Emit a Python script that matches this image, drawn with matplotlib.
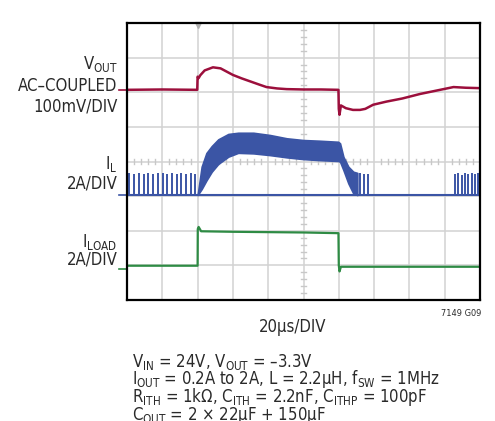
import matplotlib
matplotlib.use("Agg")
import matplotlib.pyplot as plt
from matplotlib import font_manager as fm
import numpy as np

# ---------------- data ----------------
# time in microseconds, 20 us/div, 10 divisions
time_span = [0, 200]

# V_OUT, AC-coupled, mV
vout_t = [0, 20, 39.8, 40.0, 40.6, 41.5, 44, 48.7, 53, 60, 65, 70, 75, 79, 85, 90.5,
          100, 110, 119.8, 120.0, 120.4, 121.2, 124, 128, 132, 135, 139.5, 147, 156,
          166, 175.5, 185, 192, 199, 200]
vout_mv = [0, 1, 0, 38, 34, 42, 56, 65, 62, 43, 33, 24, 15, 8, 4, 2,
           1, 1, 0, -55, -72, -45, -53, -58, -58, -55, -43, -34, -25,
           -12, -2, 8, 6, 5, 5]

# Inductor current band (switching envelope), A
il_env_t = [40, 42.3, 45, 48, 51.7, 57.4, 63, 71.6, 81, 90.5, 99.8, 109, 119.6,
            120.7, 122.6, 125.4, 128.2, 130.5]
il_env_hi = [0.0, 1.64, 2.43, 2.83, 3.22, 3.53, 3.60, 3.60, 3.47, 3.28, 3.18, 3.14, 3.08,
             2.99, 2.21, 1.64, 1.35, 1.28]
il_env_lo = [0.0, 0.35, 0.85, 1.35, 1.80, 2.22, 2.44, 2.41, 2.31, 2.18, 2.08, 2.02, 1.97,
             1.93, 1.45, 0.68, 0.10, 0.0]
# Burst-mode pulses (time, peak A)
il_pulse_t = [1.3, 4.0, 6.8, 9.5, 12.1, 14.7, 17.4, 20.2, 22.8, 25.5, 28.2, 30.8, 33.6,
              36.3, 38.7, 132.0, 134.2, 136.5,
              185.8, 187.7, 189.6, 191.5, 193.4, 195.3, 197.2, 199.1]
il_pulse_pk = [1.25, 1.22, 1.27, 1.24, 1.26, 1.22, 1.27, 1.25, 1.23, 1.27, 1.24, 1.26, 1.22,
               1.27, 1.24, 1.25, 1.22, 1.20,
               1.22, 1.27, 1.18, 1.26, 1.24, 1.27, 1.20, 1.25]

# Load current, A
iload_t = [0, 40, 40.1, 40.6, 42, 60, 100, 119.8, 120.0, 120.4, 121.2, 200]
iload_a = [0.18, 0.18, 2.30, 2.42, 2.17, 2.14, 2.10, 2.06, 0.20, -0.15, 0.12, 0.12]

# channel scales / ground positions (divisions from bottom)
vout_scale, vout_off = 100.0, 6.07
il_scale, il_off = 2.0, 3.03
iload_scale, iload_off = 2.0, 0.90

# condition lines under the plot
cond_lines = [
    r"V$_{\mathrm{IN}}$ = 24V, V$_{\mathrm{OUT}}$ = –3.3V",
    r"I$_{\mathrm{OUT}}$ = 0.2A to 2A, L = 2.2µH, f$_{\mathrm{SW}}$ = 1MHz",
    r"R$_{\mathrm{ITH}}$ = 1kΩ, C$_{\mathrm{ITH}}$ = 2.2nF, C$_{\mathrm{ITHP}}$ = 100pF",
    r"C$_{\mathrm{OUT}}$ = 2 × 22µF + 150µF",
]

RED, BLUE, GREEN = "#9c0f3c", "#3b55a5", "#2e8b44"
GRID = "#d2d2d2"
TXT = "#2a2a2a"

# pick a condensed sans if one is installed
avail = {f.name for f in fm.fontManager.ttflist}
if "Liberation Sans Narrow" in avail:
    main, stretch = "Liberation Sans Narrow", "normal"
else:
    main, stretch = "DejaVu Sans", "condensed"
plt.rcParams["font.family"] = [main, "DejaVu Sans"]
plt.rcParams["font.stretch"] = stretch
plt.rcParams["mathtext.fontset"] = "custom"
spec = main if stretch == "normal" else main + ":stretch=condensed"
plt.rcParams["mathtext.rm"] = spec
plt.rcParams["mathtext.it"] = spec
plt.rcParams["mathtext.bf"] = spec

W, H = 495, 421
fig = plt.figure(figsize=(W / 100, H / 100), dpi=100)
L, R, T, B = 127, 480, 23, 300
ax = fig.add_axes([L / W, 1 - B / H, (R - L) / W, (B - T) / H])
ax.set_xlim(0, 200)
ax.set_ylim(0, 8)
ax.set_xticks([])
ax.set_yticks([])
for s in ax.spines.values():
    s.set_linewidth(1.6)
    s.set_color("black")
    s.set_zorder(10)

# graticule
for k in range(1, 10):
    ax.axvline(k * 20, color=GRID, lw=1.1, zorder=0)
for k in range(1, 8):
    ax.axhline(k, color=GRID, lw=1.1, zorder=0)
# minor ticks on center lines
for k in range(1, 40):
    v = k * 0.2
    if abs(v - round(v)) > 1e-6:
        ax.plot([98.5, 101.5], [v, v], color="#c8c8c8", lw=1.0, zorder=0)
for k in range(1, 50):
    u = k * 4
    if u % 20:
        ax.plot([u, u], [3.93, 4.07], color="#c8c8c8", lw=1.0, zorder=0)
# trigger marker
ax.plot([40], [7.93], marker="v", color="#b0b0b0", ms=5, clip_on=False, zorder=1)

# V_OUT
ax.plot(vout_t, vout_off + np.array(vout_mv) / vout_scale, color=RED, lw=1.8, zorder=3)

# I_L
ax.plot(time_span, [il_off, il_off], color=BLUE, lw=1.5, zorder=3)
ax.fill_between(il_env_t, il_off + np.array(il_env_lo) / il_scale,
                il_off + np.array(il_env_hi) / il_scale,
                color=BLUE, lw=1.2, edgecolor=BLUE, zorder=3)
ax.vlines(il_pulse_t, il_off, il_off + np.array(il_pulse_pk) / il_scale,
          color=BLUE, lw=1.4, zorder=3)

# I_LOAD
ax.plot(iload_t, iload_off + np.array(iload_a) / iload_scale, color=GREEN, lw=1.6, zorder=3)

# channel ground markers
for off, c in [(vout_off, RED), (il_off, BLUE), (iload_off, GREEN)]:
    ax.plot([-4.5, -0.8], [off, off], color=c, lw=1.2, clip_on=False)


def ftxt(x, y, s, **kw):
    return fig.text(x / W, 1 - y / H, s, fontstretch=stretch, **kw)


FS = 12.0
lab = dict(ha="right", va="baseline", fontsize=FS, color=TXT)
ftxt(117.5, 69.5, r"V$_{\mathrm{OUT}}$", **lab)
ftxt(117.5, 91, "AC–COUPLED", **lab)
ftxt(117.5, 111.7, "100mV/DIV", **lab)
ftxt(117.5, 169, r"I$_{\mathrm{L}}$", **lab)
ftxt(117.5, 188.3, "2A/DIV", **lab)
ftxt(117.5, 246.7, r"I$_{\mathrm{LOAD}}$", **lab)
ftxt(117.5, 265, "2A/DIV", **lab)

ftxt(292.5, 331.7, "20µs/DIV", ha="center", va="baseline", fontsize=FS, color=TXT)
ftxt(481.7, 315.7, "7149 G09", ha="right", va="baseline", fontsize=6.6, color=TXT)

# condition block as one multi-line text
ftxt(131.5, 352.0, "\n".join(cond_lines), ha="left", va="top", fontsize=FS,
     color=TXT, linespacing=0.76)

fig.savefig("out.png", dpi=100)
